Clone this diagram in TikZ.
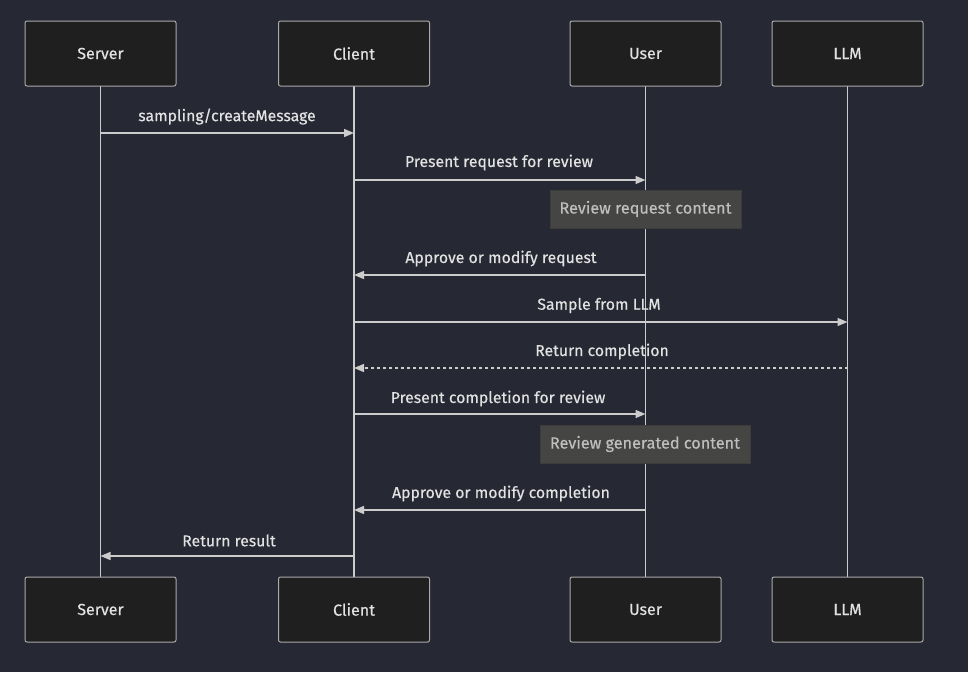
\documentclass[tikz,border=0pt]{standalone}
\usepackage{fontspec}
\setmainfont{Fira Sans}
\newfontfamily\lblfont{Fira Sans}[FakeBold=0.35]
\usetikzlibrary{arrows.meta}
\definecolor{bg}{RGB}{38,40,51}
\definecolor{boxfill}{RGB}{31,31,31}
\definecolor{boxline}{RGB}{170,170,170}
\definecolor{lineclr}{RGB}{204,204,204}
\definecolor{txt}{RGB}{226,226,226}
\definecolor{notefill}{RGB}{69,70,68}
\definecolor{noteline}{RGB}{60,60,58}
\definecolor{notetxt}{RGB}{190,190,190}
\begin{document}
\begin{tikzpicture}[x=1pt,y=-1pt,
  actor/.style={draw=boxline,fill=boxfill,line width=1pt,rounded corners=2pt,minimum width=151pt,minimum height=65pt,text=txt,font=\lblfont\fontsize{16}{17}\selectfont,inner sep=0pt},
  life/.style={draw=lineclr,line width=1.8pt},
  msg/.style={draw=lineclr,line width=1.4pt,-{Triangle[length=10pt,width=8pt]}},
  dmsg/.style={msg,dash pattern=on 3pt off 3pt},
  lbl/.style={text=txt,font=\lblfont\fontsize{15.8}{17}\selectfont,inner sep=0pt},
  note/.style={draw=noteline,fill=notefill,line width=1pt,text=notetxt,font=\lblfont\fontsize{16.2}{18}\selectfont,inner sep=0pt,minimum height=38pt}
]
\fill[bg] (0,0) rectangle (968,672);
\useasboundingbox (0,0) rectangle (968,672);
% lifelines coordinates
\foreach \n/\x in {S/100.5,C/354,U/645.5,L/847.5}{
  \coordinate (\n t) at (\x,86);
  \coordinate (\n b) at (\x,577);
}
\draw[life] (St) -- (Sb);
\draw[life] (Ct) -- (Cb);
\draw[life] (Ut) -- (Ub);
\draw[life] (Lt) -- (Lb);
% actors
\node[actor] (S1) at (100.5,53.5) {Server};
\node[actor] (C1) at (354,53.5) {Client};
\node[actor] (U1) at (645.5,53.5) {User};
\node[actor] (L1) at (847.5,53.5) {LLM};
\node[actor] (S2) at (100.5,609.5) {Server};
\node[actor] (C2) at (354,609.5) {Client};
\node[actor] (U2) at (645.5,609.5) {User};
\node[actor] (L2) at (847.5,609.5) {LLM};
% message points
\foreach \y/\i in {133/1,180/2,275/4,322/5,368/6,414/7,510/9,556/10}{
  \coordinate (S\i) at (100.5,\y);
  \coordinate (C\i) at (354,\y);
  \coordinate (U\i) at (645.5,\y);
  \coordinate (L\i) at (847.5,\y);
}
\draw[msg] (S1) -- (C1);
\draw[msg] (C2) -- (U2);
\draw[msg] (U4) -- (C4);
\draw[msg] (C5) -- (L5);
\draw[dmsg] (L6) -- (C6);
\draw[msg] (C7) -- (U7);
\draw[msg] (U9) -- (C9);
\draw[msg] (C10) -- (S10);
% labels
\node[lbl] (m1) at (227,116.5) {sampling/createMessage};
\node[lbl] (m2) at (499,162.5) {Present request for review};
\node[lbl] (m4) at (501,258.5) {Approve or modify request};
\node[lbl] (m5) at (599,305.5) {Sample from LLM};
\node[lbl] (m6) at (602,351.5) {Return completion};
\node[lbl] (m7) at (498,398.5) {Present completion for review};
\node[lbl] (m9) at (501,493.5) {Approve or modify completion};
\node[lbl] (m10) at (229,540.5) {Return result};
% notes
\node[note,minimum width=191pt] (n1) at (645.5,209) {Review request content};
\node[note,minimum width=210pt] (n2) at (645,444) {Review generated content};
\end{tikzpicture}
\end{document}
